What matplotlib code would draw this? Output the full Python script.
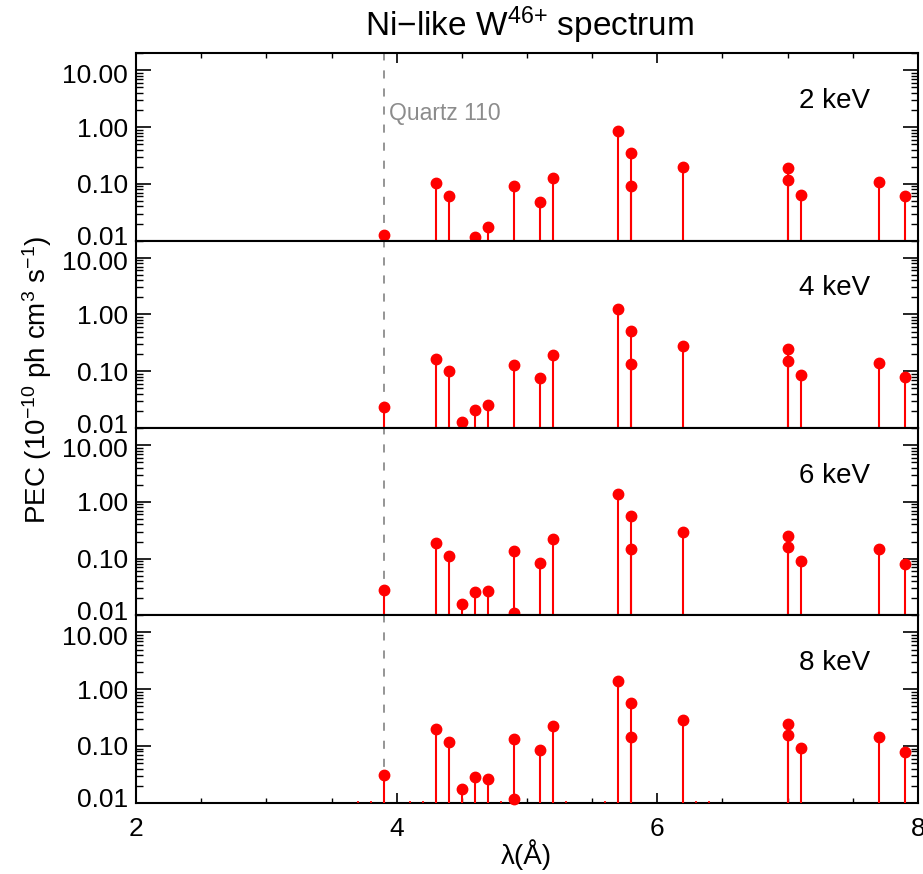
import numpy as np
import matplotlib
matplotlib.use('Agg')
import matplotlib.pyplot as plt
import matplotlib.transforms as mtransforms
from matplotlib.ticker import LogLocator, FixedLocator, NullFormatter, MultipleLocator

plt.rcParams['font.family'] = ['Liberation Sans', 'DejaVu Sans']
plt.rcParams['mathtext.default'] = 'regular'

# line positions (Angstrom) and PEC values for each electron energy
energies = ['2 keV', '4 keV', '6 keV', '8 keV']

wl_2kev = [3.9, 4.3, 4.4, 4.6, 4.7, 4.9, 5.1, 5.2, 5.7, 5.8, 5.8, 6.2, 7.0, 7.0, 7.1, 7.7, 7.9]
pec_2kev = [0.0124, 0.102, 0.0616, 0.0116, 0.0174, 0.0925, 0.048, 0.125, 0.86, 0.355, 0.0925,
            0.20, 0.188, 0.117, 0.0626, 0.108, 0.0616]

wl_4kev = [3.9, 4.3, 4.4, 4.5, 4.6, 4.7, 4.9, 5.1, 5.2, 5.7, 5.8, 5.8, 6.2, 7.0, 7.0, 7.1, 7.7, 7.9]
pec_4kev = [0.023, 0.166, 0.0995, 0.013, 0.0206, 0.0252, 0.129, 0.075, 0.194, 1.25, 0.51, 0.133,
            0.279, 0.244, 0.153, 0.0867, 0.141, 0.079]

wl_6kev = [3.9, 4.3, 4.4, 4.5, 4.6, 4.7, 4.9, 4.9, 5.1, 5.2, 5.7, 5.8, 5.8, 6.2, 7.0, 7.0, 7.1, 7.7, 7.9]
pec_6kev = [0.0278, 0.189, 0.111, 0.0157, 0.0253, 0.0264, 0.1346, 0.011, 0.0826, 0.22, 1.38, 0.556,
            0.145, 0.292, 0.248, 0.158, 0.091, 0.148, 0.080]

wl_8kev = [3.9, 4.3, 4.4, 4.5, 4.6, 4.7, 4.9, 4.9, 5.1, 5.2, 5.7, 5.8, 5.8, 6.2, 7.0, 7.0, 7.1, 7.7, 7.9]
pec_8kev = [0.0307, 0.198, 0.116, 0.0173, 0.0283, 0.026, 0.133, 0.0118, 0.085, 0.229, 1.41, 0.577,
            0.144, 0.292, 0.242, 0.158, 0.091, 0.144, 0.078]

# very weak lines only just showing above the axis in the 8 keV panel
wl_weak = [3.7, 3.8, 4.1, 4.2, 4.8, 5.3, 5.6, 6.3, 6.4]
pec_weak = [0.0107] * len(wl_weak)

wls = [wl_2kev, wl_4kev, wl_6kev, wl_8kev]
pecs = [pec_2kev, pec_4kev, pec_6kev, pec_8kev]

quartz_wl = 3.9
ymin, ymax = 0.01, 20.0

W, H = 923, 874
fig = plt.figure(figsize=(W / 100, H / 100), dpi=100)

left, right = 136 / W, 918 / W
top_px, bot_px = 53.3, 802.7
ph = (bot_px - top_px) / 4

axes = []
for i in range(4):
    y0 = 1 - (top_px + (i + 1) * ph) / H
    ax = fig.add_axes([left, y0, right - left, ph / H])
    axes.append(ax)

for i, ax in enumerate(axes):
    ax.set_xlim(2, 8)
    ax.set_yscale('log')
    ax.set_ylim(ymin, ymax)

    ax.vlines(wls[i], ymin, pecs[i], color='red', lw=1.5, zorder=3)
    ax.plot(wls[i], pecs[i], 'o', color='red', ms=7.5, mec='red', clip_on=False, zorder=4)
    if i == 3:
        ax.vlines(wl_weak, ymin, pec_weak, color='red', lw=1.2, zorder=3)

    ax.axvline(quartz_wl, color='#8c8c8c', lw=1.3, dashes=(4.5, 5.5), zorder=2)

    ax.text(0.9386, 0.745, energies[i], transform=ax.transAxes,
            ha='right', va='center', fontsize=20)

    ax.yaxis.set_major_locator(FixedLocator([0.01, 0.1, 1, 10]))
    ax.yaxis.set_minor_locator(LogLocator(base=10, subs=np.arange(2, 10)))
    ax.yaxis.set_minor_formatter(NullFormatter())
    ax.set_yticklabels(['0.01', '0.10', '1.00', '10.00'])
    ax.tick_params(axis='y', which='major', direction='in', length=10.5, width=1.2,
                   left=True, right=True, labelsize=19, pad=6)
    ax.tick_params(axis='y', which='minor', direction='in', length=5, width=1.0,
                   left=True, right=True)

    # nudge the end labels apart so neighbouring panels do not collide
    labs = ax.get_yticklabels()
    labs[0].set_transform(labs[0].get_transform() + mtransforms.ScaledTranslation(0, 3.5 / 72, fig.dpi_scale_trans))
    labs[3].set_transform(labs[3].get_transform() + mtransforms.ScaledTranslation(0, -2 / 72, fig.dpi_scale_trans))

    ax.xaxis.set_major_locator(MultipleLocator(2))
    ax.xaxis.set_minor_locator(MultipleLocator(0.5))
    ax.tick_params(axis='x', which='major', direction='in', length=7, width=1.2,
                   top=(i == 0), bottom=(i == 3), labelbottom=(i == 3), labelsize=19, pad=10)
    ax.tick_params(axis='x', which='minor', direction='in', length=3.5, width=1.0,
                   top=(i == 0), bottom=(i == 3))

    for s in ax.spines.values():
        s.set_linewidth(1.5)

axes[0].text(quartz_wl + 0.04, 0.68, 'Quartz 110', color='#8c8c8c', fontsize=16.5,
             transform=axes[0].get_xaxis_transform(), ha='left', va='center')

fig.text(530 / W, 1 - 25 / H, 'Ni\u2212like W$^{46{+}}$ spectrum', ha='center', va='center', fontsize=24)
fig.text(526 / W, 1 - 855 / H, '\u03bb(\u00c5)', ha='center', va='center', fontsize=20)
fig.text(37 / W, 1 - 380 / H, 'PEC (10$^{-10}$ ph cm$^{3}$ s$^{-1}$)', rotation=90,
         ha='center', va='center', fontsize=20)

fig.savefig('out.png', dpi=100)
